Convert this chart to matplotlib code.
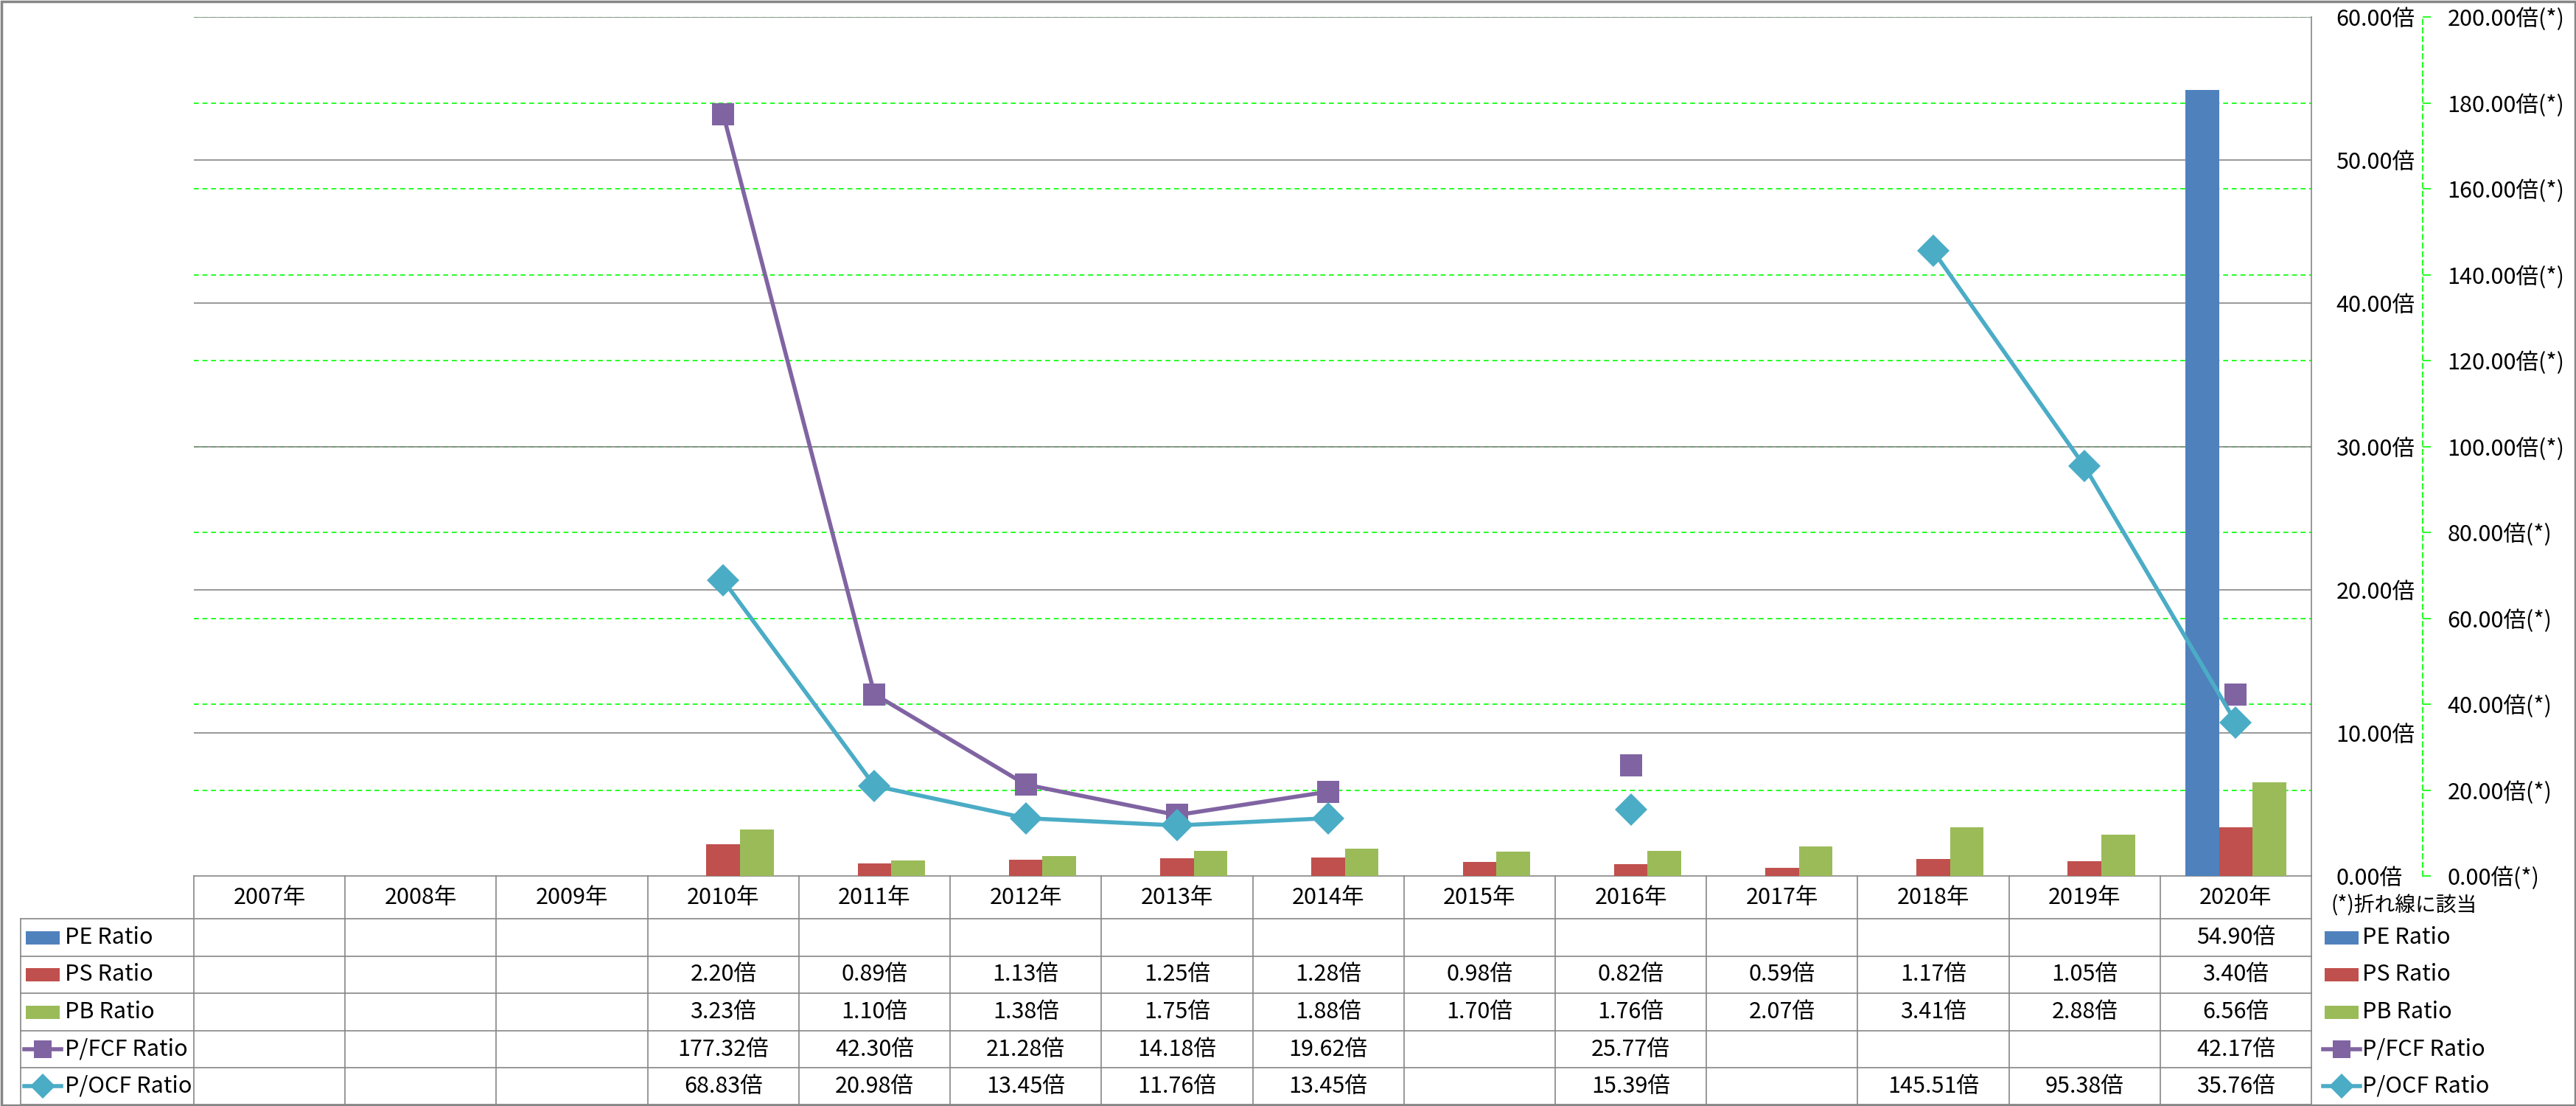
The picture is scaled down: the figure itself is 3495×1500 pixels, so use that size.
import matplotlib
matplotlib.use("Agg")
import matplotlib.pyplot as plt
from matplotlib.patches import Rectangle
from matplotlib.lines import Line2D
import numpy as np

plt.rcParams['font.family'] = ['Noto Sans CJK JP', 'DejaVu Sans']

# data
years = ["2007年", "2008年", "2009年", "2010年", "2011年", "2012年", "2013年",
         "2014年", "2015年", "2016年", "2017年", "2018年", "2019年", "2020年"]
pe = [None, None, None, None, None, None, None, None, None, None, None, None, None, 54.90]
ps = [None, None, None, 2.20, 0.89, 1.13, 1.25, 1.28, 0.98, 0.82, 0.59, 1.17, 1.05, 3.40]
pb = [None, None, None, 3.23, 1.10, 1.38, 1.75, 1.88, 1.70, 1.76, 2.07, 3.41, 2.88, 6.56]
pfcf = [None, None, None, 177.32, 42.30, 21.28, 14.18, 19.62, None, 25.77, None, None, None, 42.17]
pocf = [None, None, None, 68.83, 20.98, 13.45, 11.76, 13.45, None, 15.39, None, 145.51, 95.38, 35.76]

names = ["PE Ratio", "PS Ratio", "PB Ratio", "P/FCF Ratio", "P/OCF Ratio"]
colors = ["#4F81BD", "#C0504D", "#9BBB59", "#8064A2", "#4BACC6"]

# layout in pixels
W, H = 3495, 1500
PL, PR, PT, PB = 263, 3136, 23, 1188
colw = (PR - PL) / len(years)
rows = [1246, 1297, 1347, 1398, 1448, 1498]
GRAY = "#868686"
GREEN = "#00FF00"
FS = 22      # table text
TFS = 22     # tick labels

fig = plt.figure(figsize=(W / 100, H / 100), dpi=100)

# overlay for the data table / borders
tb = fig.add_axes([0, 0, 1, 1])
tb.set_xlim(0, W)
tb.set_ylim(H, 0)
tb.axis("off")

ax = fig.add_axes([PL / W, 1 - PB / H, (PR - PL) / W, (PB - PT) / H])
ax.set_facecolor("none")
x = np.arange(len(years))
bw = 0.222
ax.bar(x - bw, np.array(pe, dtype=float), bw, color=colors[0], zorder=2)
ax.bar(x, np.array(ps, dtype=float), bw, color=colors[1], zorder=2)
ax.bar(x + bw, np.array(pb, dtype=float), bw, color=colors[2], zorder=2)
ax.set_xlim(-0.5, len(years) - 0.5)
ax.set_ylim(0, 60)

# grid: dashed green for secondary, gray for primary on top (both behind bars)
for v in range(20, 201, 20):
    ax.axhline(v * 60 / 200, color=GREEN, lw=1.2, ls=(0, (4, 3)), zorder=0.5)
for v in range(10, 61, 10):
    ax.axhline(v, color=GRAY, lw=1.2, zorder=0.8)

ax2 = ax.twinx()
ax2.plot(x, np.array(pfcf, dtype=float), color=colors[3], lw=4, marker="s", ms=21,
         markeredgewidth=0, solid_joinstyle="round")
ax2.plot(x, np.array(pocf, dtype=float), color=colors[4], lw=4, marker="D", ms=22,
         markeredgewidth=0)
ax2.set_ylim(0, 200)
ax2.set_yticks(range(0, 201, 20))
ax2.set_yticklabels([f"{v:.2f}倍(*)" for v in range(0, 201, 20)])
ax2.tick_params(axis="y", direction="out", length=8, color=GREEN, width=1.2, pad=16,
                labelsize=TFS)
for s in ["left", "top", "bottom"]:
    ax2.spines[s].set_visible(False)
ax2.spines["right"].set_position(("outward", 109))
ax2.spines["right"].set_color(GREEN)
ax2.spines["right"].set_linestyle((0, (4, 3)))
ax2.spines["right"].set_linewidth(1.2)

# primary axis labels on the right (after twinx, which moves them left)
ax.set_xticks([])
ax.set_yticks(range(0, 61, 10))
ax.set_yticklabels([f"{v:.2f}倍" for v in range(0, 61, 10)])
ax.tick_params(axis="y", left=False, labelleft=False, right=False, labelright=True,
               length=0, pad=24, labelsize=TFS)
for s in ["left", "top", "bottom"]:
    ax.spines[s].set_visible(False)
ax.spines["right"].set_color(GRAY)
ax.spines["right"].set_linewidth(1.2)

# data table
tb.plot([PL, PR], [PB, PB], color=GRAY, lw=1.2)
for y in rows:
    tb.plot([28, PR], [y, y], color=GRAY, lw=1.2)
for k in range(len(years) + 1):
    xx = PL + k * colw
    tb.plot([xx, xx], [PB, rows[-1]], color=GRAY, lw=1.2)
tb.plot([28, 28], [rows[0], rows[-1]], color=GRAY, lw=1.2)

for i, yr in enumerate(years):
    tb.text(PL + (i + 0.5) * colw, (PB + rows[0]) / 2, yr, ha="center", va="center", fontsize=FS)

series = [pe, ps, pb, pfcf, pocf]
markers = [None, None, None, "s", "D"]


def legend_key(x0, yc, j):
    if markers[j] is None:
        tb.add_patch(Rectangle((x0, yc - 9), 46, 18, color=colors[j], lw=0))
    else:
        tb.add_line(Line2D([x0 - 2, x0 + 48], [yc, yc], color=colors[j], lw=4))
        tb.plot([x0 + 23], [yc], marker=markers[j], ms=17, color=colors[j], markeredgewidth=0)


for j, vals in enumerate(series):
    yc = (rows[j] + rows[j + 1]) / 2
    legend_key(35, yc, j)
    tb.text(88, yc, names[j], ha="left", va="center", fontsize=FS)
    legend_key(3154, yc, j)
    tb.text(3205, yc, names[j], ha="left", va="center", fontsize=FS)
    for i, v in enumerate(vals):
        if v is not None:
            tb.text(PL + (i + 0.5) * colw, yc, f"{v:.2f}倍", ha="center", va="center", fontsize=FS)

tb.text(3162, 1228, "(*)折れ線に該当", ha="left", va="center", fontsize=20)

# outer border
tb.add_patch(Rectangle((1.5, 1.5), W - 3, H - 3, fill=False, edgecolor=GRAY, lw=2.5))

fig.savefig("out.png", dpi=100)
